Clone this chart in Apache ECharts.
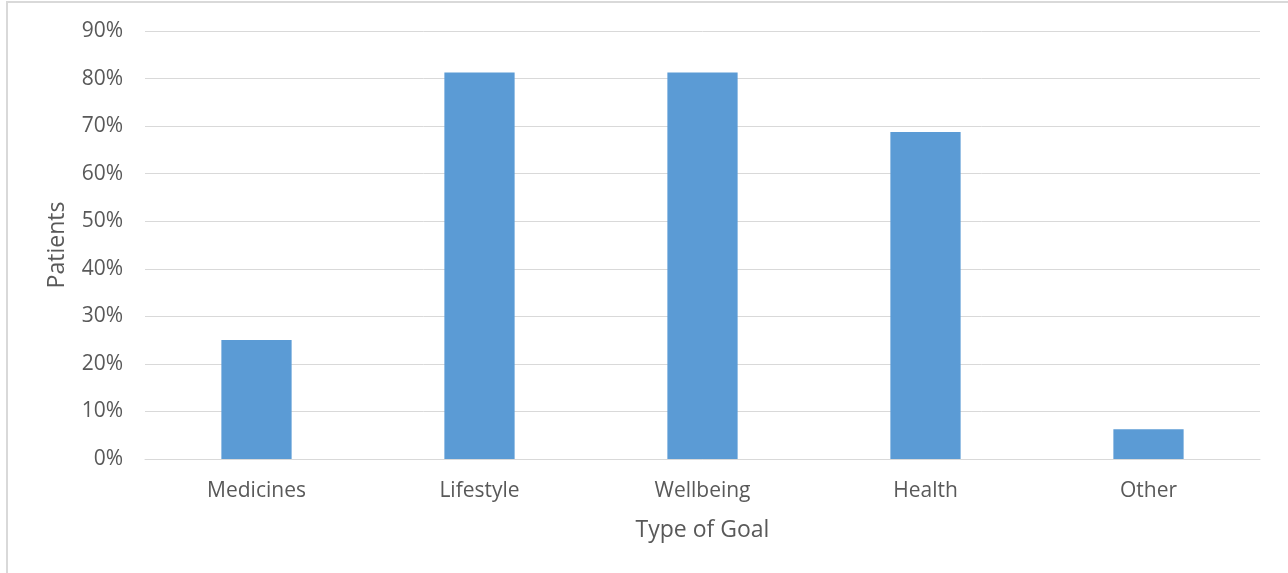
<!DOCTYPE html>
<html><head><meta charset="utf-8">
<script src="https://cdn.jsdelivr.net/npm/echarts@6/dist/echarts.min.js"></script>
<style>
html,body{margin:0;padding:0;background:#fff;}
#frame{position:absolute;left:6px;top:1px;width:1300px;height:600px;border:2px solid #d9d9d9;box-sizing:border-box;}
#c{position:absolute;left:0;top:0;width:1288px;height:573px;}
</style></head>
<body>
<div id="frame"></div>
<div id="c"></div>
<script>
const categories = ["Medicines", "Lifestyle", "Wellbeing", "Health", "Other"];
const patientsPct = [25, 81.25, 81.25, 68.75, 6.25];
const yTicks = [0, 10, 20, 30, 40, 50, 60, 70, 80, 90];

const font = '"Open Sans", "Liberation Sans", sans-serif';
const chart = echarts.init(document.getElementById('c'), null, {renderer: 'canvas'});
chart.setOption({
  animation: false,
  backgroundColor: 'transparent',
  grid: {left: 145, right: 28, top: 31, bottom: 114, containLabel: false},
  xAxis: {
    type: 'category',
    data: categories,
    name: 'Type of Goal',
    nameLocation: 'middle',
    nameGap: 60,
    nameTextStyle: {color: '#595959', fontSize: 23, fontFamily: font},
    axisLine: {show: true, lineStyle: {color: '#d9d9d9', width: 1}},
    axisTick: {show: false},
    axisLabel: {color: '#595959', fontSize: 21, fontFamily: font, margin: 22}
  },
  yAxis: {
    type: 'value',
    min: yTicks[0],
    max: yTicks[yTicks.length - 1],
    interval: 10,
    name: 'Patients',
    nameLocation: 'middle',
    nameGap: 76,
    nameRotate: 90,
    nameTextStyle: {color: '#595959', fontSize: 23, fontFamily: font},
    axisLine: {show: false},
    axisTick: {show: false},
    splitLine: {lineStyle: {color: '#d9d9d9', width: 1}},
    axisLabel: {color: '#595959', fontSize: 21, fontFamily: font, margin: 22, formatter: v => v + '%'}
  },
  series: [{
    type: 'bar',
    data: patientsPct,
    barWidth: '31.5%',
    itemStyle: {color: '#5b9bd5'}
  }]
});
</script>
</body></html>
